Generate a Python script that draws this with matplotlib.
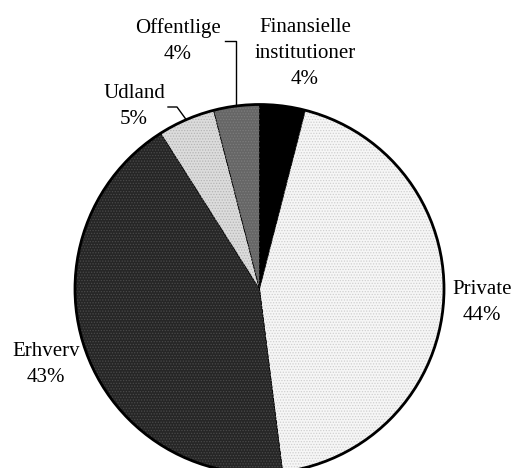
import numpy as np
import matplotlib
matplotlib.use("Agg")
from matplotlib import pyplot as plt
from matplotlib.patches import Circle

# data (clockwise from 12 o'clock)
labels = ['Finansielle\ninstitutioner', 'Private', 'Erhverv', 'Udland', 'Offentlige']
shares = [4, 44, 43, 5, 4]
colors = ['#000000', '#f6f6f6', '#262626', '#dcdcdc', '#666666']
dots = ['#000000', '#cfcfcf', '#4a4a4a', '#b4b4b4', '#7c7c7c']

# pixel layout of the reference: pie centre and radius
cx, cy, r = 259.5, 289.0, 184.5
W, H = 515, 468

def px(x, y):
    return (x - cx) / r, (cy - y) / r

plt.rcParams['font.family'] = ['Liberation Serif', 'DejaVu Serif']
plt.rcParams['hatch.linewidth'] = 0.6

fig = plt.figure(figsize=(W / 100, H / 100), dpi=100)
ax = fig.add_axes([0, 0, 1, 1])

wedges, _ = ax.pie(shares, colors=colors, startangle=90, counterclock=False,
                   radius=1, wedgeprops=dict(edgecolor='black', linewidth=0.6))
# dotted texture on top
tex, _ = ax.pie(shares, startangle=90, counterclock=False, radius=1,
                wedgeprops=dict(facecolor='none', linewidth=0))
for t, c in zip(tex, dots):
    t.set_edgecolor(c)
    t.set_hatch('......')
ax.add_patch(Circle((0, 0), 1, fill=False, edgecolor='black', linewidth=2, zorder=5))

ax.set_xlim(-cx / r, (W - cx) / r)
ax.set_ylim(-(H - cy) / r, cy / r)
ax.axis('off')

# label positions (text block centres, in reference pixels)
label_pos = [(305, 53), (482, 303), (46, 364), (134, 106), (178, 41)]
for w, lab, val, (lx, ly) in zip(wedges, labels, shares, label_pos):
    x, y = px(lx, ly)
    ax.text(x, y, f'{lab}\n{val}%', ha='center', va='center', fontsize=15,
            linespacing=1.5)

# leader lines for the two small wedges on the left of the top
def mid(w):
    a = np.deg2rad((w.theta1 + w.theta2) / 2)
    return np.cos(a), np.sin(a)

# Offentlige
mx, my = mid(wedges[4])
sx, sy = px(225, 41)
ax.plot([sx, mx, mx], [sy, sy, my], color='black', lw=1)
# Udland
mx, my = mid(wedges[3])
sx, sy = px(168, 107)
ex, _ = px(177, 107)
ax.plot([sx, ex, mx], [sy, sy, my], color='black', lw=1)

fig.savefig('out.png', dpi=100)
